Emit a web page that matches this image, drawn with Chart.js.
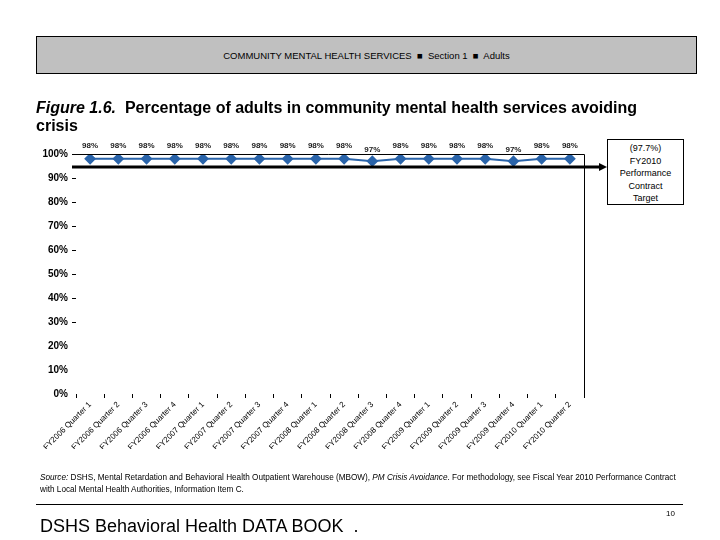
<!DOCTYPE html>
<html>
<head>
<meta charset="utf-8">
<script src="https://cdn.jsdelivr.net/npm/chart.js@4.4.0/dist/chart.umd.min.js"></script>
<style>
  body { margin: 0; width: 720px; height: 540px; background: #fff; font-family: Arial, "Liberation Sans", sans-serif; position: relative; overflow: hidden; }
  #wrap { position: absolute; left: 0; top: 0; width: 720px; height: 540px; }
  .abs { position: absolute; }
  #header { left: 36px; top: 36px; width: 659px; height: 36px; background: #c0c0c0; border: 1px solid #000; font-size: 9.5px; text-align: center; line-height: 37px; }
  #title { left: 36px; top: 99px; font-size: 16px; font-weight: bold; line-height: 18px; width: 610px; }
  #target { left: 607px; top: 139px; width: 77px; height: 66px; border: 1px solid #000; font-size: 9px; text-align: center; line-height: 12.5px; padding-top: 2px; box-sizing: border-box; background: #fff; }
  #source { left: 40px; top: 472px; font-size: 8.2px; line-height: 12px; width: 643px; }
  #rule { left: 36px; top: 504px; width: 647px; height: 0; border-top: 1px solid #000; }
  #page { left: 666px; top: 509px; font-size: 8px; }
  #book { left: 40px; top: 516px; font-size: 18px; }
</style>
</head>
<body>
<div id="wrap"><canvas id="chart" width="720" height="540"></canvas></div>
<div id="header" class="abs">COMMUNITY MENTAL HEALTH SERVICES &nbsp;&#9632;&nbsp; Section 1 &nbsp;&#9632;&nbsp; Adults</div>
<div id="title" class="abs"><i>Figure 1.6.</i>&nbsp; Percentage of adults in community mental health services avoiding crisis</div>
<div id="target" class="abs">(97.7%)<br>FY2010<br>Performance<br>Contract<br>Target</div>
<div id="source" class="abs"><i>Source:</i> DSHS, Mental Retardation and Behavioral Health Outpatient Warehouse (MBOW), <i>PM Crisis Avoidance</i>. For methodology, see Fiscal Year 2010 Performance Contract with Local Mental Health Authorities, Information Item C.</div>
<div id="rule" class="abs"></div>
<div id="page" class="abs">10</div>
<div id="book" class="abs">DSHS Behavioral Health DATA BOOK &nbsp;.</div>
<script>
const quarters = [
  'FY2006 Quarter 1', 'FY2006 Quarter 2', 'FY2006 Quarter 3', 'FY2006 Quarter 4',
  'FY2007 Quarter 1', 'FY2007 Quarter 2', 'FY2007 Quarter 3', 'FY2007 Quarter 4',
  'FY2008 Quarter 1', 'FY2008 Quarter 2', 'FY2008 Quarter 3', 'FY2008 Quarter 4',
  'FY2009 Quarter 1', 'FY2009 Quarter 2', 'FY2009 Quarter 3', 'FY2009 Quarter 4',
  'FY2010 Quarter 1', 'FY2010 Quarter 2'
];
const avoidingCrisis = [98, 98, 98, 98, 98, 98, 98, 98, 98, 98, 97, 98, 98, 98, 98, 97, 98, 98];
const yTicks = [0, 10, 20, 30, 40, 50, 60, 70, 80, 90, 100];

const lineBlue = '#2a64aa';

// frame: top line and right line of plot area, plus target arrow to the box
const framePlugin = {
  id: 'frame',
  afterDraw(c) {
    const a = c.chartArea, ctx = c.ctx;
    ctx.save();
    ctx.strokeStyle = '#000';
    ctx.lineWidth = 1;
    ctx.beginPath();
    ctx.moveTo(a.left - 4, a.top + 0.5);
    ctx.lineTo(a.right + 0.5, a.top + 0.5);
    ctx.lineTo(a.right + 0.5, a.bottom + 3);
    ctx.stroke();
    // callout arrow
    const y = a.top + 13;
    ctx.lineWidth = 3;
    ctx.beginPath();
    ctx.moveTo(a.left - 4, y);
    ctx.lineTo(600, y);
    ctx.stroke();
    ctx.fillStyle = '#000';
    ctx.beginPath();
    ctx.moveTo(607, y);
    ctx.lineTo(599, y - 4);
    ctx.lineTo(599, y + 4);
    ctx.closePath();
    ctx.fill();
    ctx.restore();
  }
};

// value labels above points
const labelPlugin = {
  id: 'valueLabels',
  afterDatasetsDraw(c) {
    const ctx = c.ctx;
    const meta = c.getDatasetMeta(0);
    ctx.save();
    ctx.font = 'bold 8px Arial';
    ctx.fillStyle = '#222';
    ctx.textAlign = 'center';
    ctx.textBaseline = 'middle';
    meta.data.forEach((pt, i) => {
      const v = avoidingCrisis[i];
      ctx.fillText(v + '%', pt.x, pt.y - (v < 98 ? 11 : 13));
    });
    ctx.restore();
  }
};

new Chart(document.getElementById('chart'), {
  type: 'line',
  data: {
    labels: quarters,
    datasets: [{
      data: avoidingCrisis,
      borderColor: lineBlue,
      backgroundColor: lineBlue,
      borderWidth: 2,
      pointStyle: 'rectRot',
      pointRadius: 4.5,
      tension: 0
    }]
  },
  options: {
    responsive: false,
    animation: false,
    layout: { padding: { top: 154, left: 36, right: 136, bottom: 91 } },
    plugins: { legend: { display: false }, tooltip: { enabled: false } },
    scales: {
      x: {
        offset: true,
        border: { display: false },
        grid: { display: true, offset: true, drawOnChartArea: false, tickLength: 4, color: '#000' },
        ticks: { maxRotation: 45, minRotation: 45, autoSkip: false, color: '#000', font: { family: 'Arial', size: 8 }, padding: 2 },
        afterFit(s) { s.height = 55; }
      },
      y: {
        min: 0, max: 100,
        border: { display: false },
        grid: {
          drawOnChartArea: false, tickLength: 4,
          color: ctx => (ctx.tick && ctx.tick.value >= 30 && ctx.tick.value <= 90) ? '#000' : 'rgba(0,0,0,0)'
        },
        afterBuildTicks(s) { s.ticks = yTicks.map(v => ({ value: v })); },
        ticks: { color: '#000', font: { family: 'Arial', size: 10, weight: 'bold' }, padding: 4, callback: v => v + '%' },
        afterFit(s) { s.width = 40; }
      }
    }
  },
  plugins: [framePlugin, labelPlugin]
});
</script>
</body>
</html>
